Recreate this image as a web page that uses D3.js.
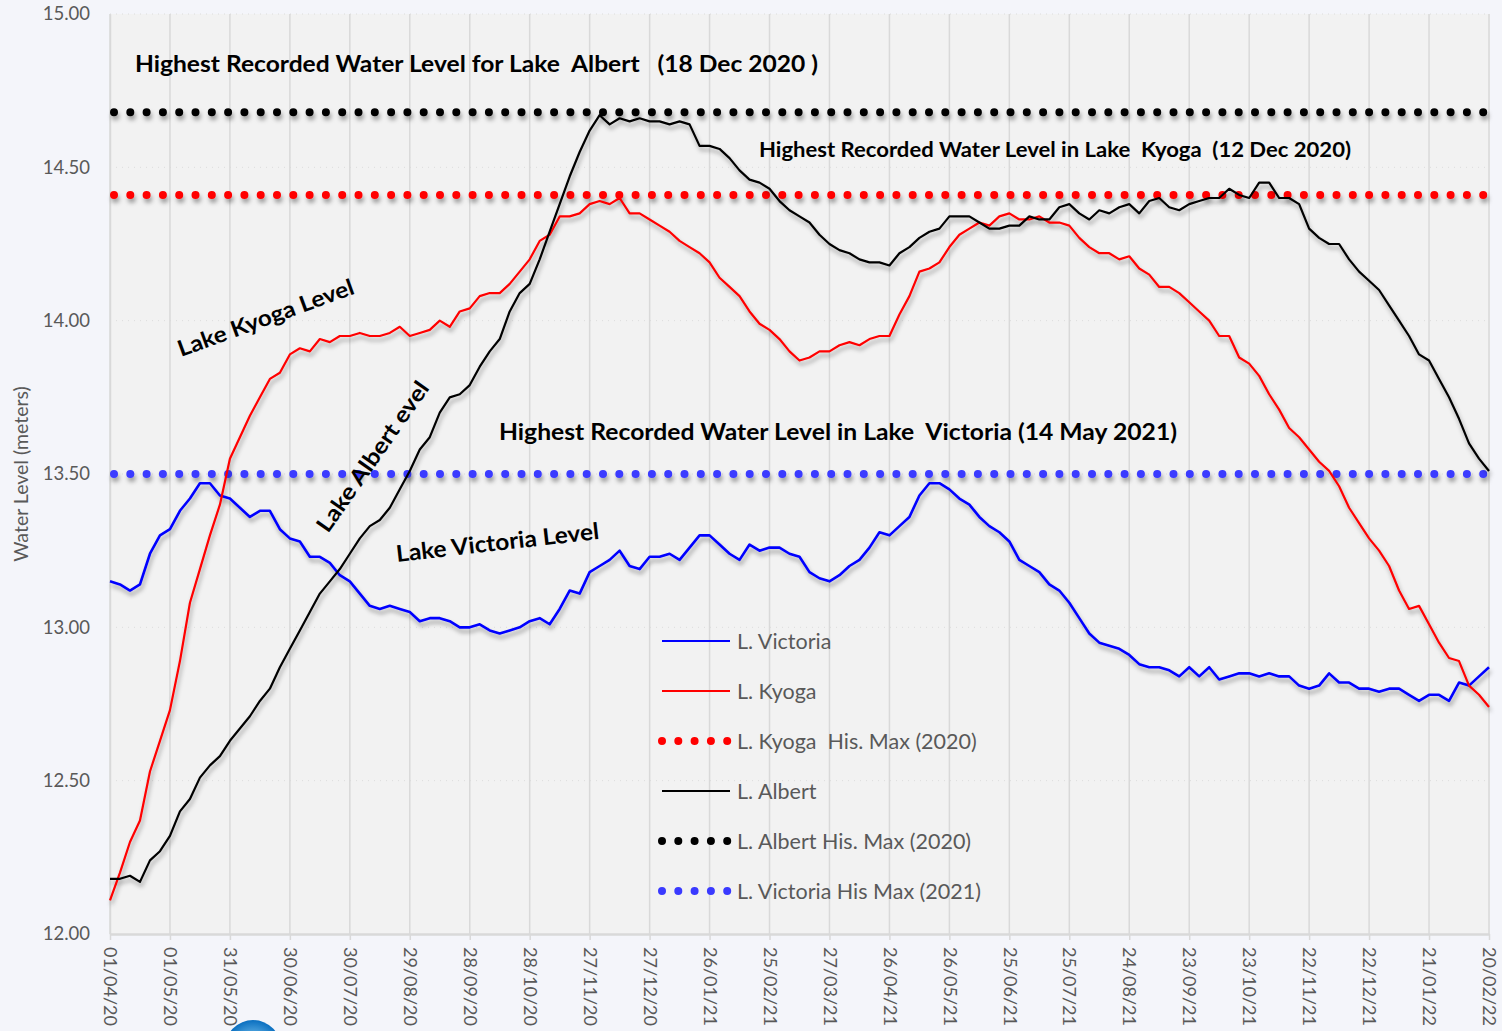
<!DOCTYPE html>
<html><head><meta charset="utf-8">
<script src="https://cdn.jsdelivr.net/npm/d3@7"></script>
<style>
html,body{margin:0;padding:0;background:#f4f5fa;}
svg{display:block;font-family:Lato,"Open Sans",sans-serif;}
</style></head><body>
<svg id="chart" width="1502" height="1031"></svg>
<script>
// ---- data ----
const startDate = "01/04/20";
const stepDays = 5;
const tickLabels = ["01/04/20","01/05/20","31/05/20","30/06/20","30/07/20","29/08/20","28/09/20","28/10/20","27/11/20","27/12/20","26/01/21","25/02/21","27/03/21","26/04/21","26/05/21","25/06/21","25/07/21","24/08/21","23/09/21","23/10/21","22/11/21","22/12/21","21/01/22","20/02/22"];
const yTicks = [12.0,12.5,13.0,13.5,14.0,14.5,15.0];

const albert = [12.18,12.18,12.19,12.17,12.24,12.27,12.32,12.40,12.44,12.51,12.55,12.58,12.63,12.67,12.71,12.76,12.80,12.87,12.93,12.99,13.05,13.11,13.15,13.19,13.24,13.29,13.33,13.35,13.39,13.45,13.51,13.58,13.62,13.70,13.75,13.76,13.79,13.85,13.90,13.94,14.03,14.09,14.12,14.20,14.29,14.38,14.47,14.55,14.62,14.67,14.64,14.66,14.65,14.66,14.65,14.65,14.64,14.65,14.64,14.57,14.57,14.56,14.53,14.49,14.46,14.45,14.43,14.39,14.36,14.34,14.32,14.28,14.25,14.23,14.22,14.20,14.19,14.19,14.18,14.22,14.24,14.27,14.29,14.30,14.34,14.34,14.34,14.32,14.30,14.30,14.31,14.31,14.34,14.33,14.33,14.37,14.38,14.35,14.33,14.36,14.35,14.37,14.38,14.35,14.39,14.40,14.37,14.36,14.38,14.39,14.40,14.40,14.43,14.41,14.40,14.45,14.45,14.40,14.40,14.38,14.30,14.27,14.25,14.25,14.20,14.16,14.13,14.10,14.05,14.00,13.95,13.89,13.87,13.81,13.75,13.68,13.60,13.55,13.51];

const kyoga = [12.11,12.20,12.30,12.37,12.53,12.63,12.73,12.89,13.08,13.19,13.30,13.40,13.55,13.62,13.69,13.75,13.81,13.83,13.89,13.91,13.90,13.94,13.93,13.95,13.95,13.96,13.95,13.95,13.96,13.98,13.95,13.96,13.97,14.00,13.98,14.03,14.04,14.08,14.09,14.09,14.12,14.16,14.20,14.26,14.28,14.34,14.34,14.35,14.38,14.39,14.38,14.40,14.35,14.35,14.33,14.31,14.29,14.26,14.24,14.22,14.19,14.14,14.11,14.08,14.03,13.99,13.97,13.94,13.90,13.87,13.88,13.90,13.90,13.92,13.93,13.92,13.94,13.95,13.95,14.02,14.08,14.16,14.17,14.19,14.24,14.28,14.30,14.32,14.31,14.34,14.35,14.33,14.33,14.34,14.32,14.32,14.31,14.27,14.24,14.22,14.22,14.20,14.21,14.17,14.15,14.11,14.11,14.09,14.06,14.03,14.00,13.95,13.95,13.88,13.86,13.82,13.76,13.71,13.65,13.62,13.58,13.54,13.51,13.46,13.39,13.34,13.29,13.25,13.20,13.12,13.06,13.07,13.01,12.95,12.90,12.89,12.81,12.78,12.74];

const victoria = [13.15,13.14,13.12,13.14,13.24,13.30,13.32,13.38,13.42,13.47,13.47,13.43,13.42,13.39,13.36,13.38,13.38,13.32,13.29,13.28,13.23,13.23,13.21,13.17,13.15,13.11,13.07,13.06,13.07,13.06,13.05,13.02,13.03,13.03,13.02,13.00,13.00,13.01,12.99,12.98,12.99,13.00,13.02,13.03,13.01,13.06,13.12,13.11,13.18,13.20,13.22,13.25,13.20,13.19,13.23,13.23,13.24,13.22,13.26,13.30,13.30,13.27,13.24,13.22,13.27,13.25,13.26,13.26,13.24,13.23,13.18,13.16,13.15,13.17,13.20,13.22,13.26,13.31,13.30,13.33,13.36,13.43,13.47,13.47,13.45,13.42,13.40,13.36,13.33,13.31,13.28,13.22,13.20,13.18,13.14,13.12,13.08,13.03,12.98,12.95,12.94,12.93,12.91,12.88,12.87,12.87,12.86,12.84,12.87,12.84,12.87,12.83,12.84,12.85,12.85,12.84,12.85,12.84,12.84,12.81,12.80,12.81,12.85,12.82,12.82,12.80,12.80,12.79,12.80,12.80,12.78,12.76,12.78,12.78,12.76,12.82,12.81,12.84,12.87];

const maxAlbert = 14.68, maxKyoga = 14.41, maxVictoria = 13.50;

const legendItems = [
  {label:"L. Victoria", type:"line", color:"#0000ff"},
  {label:"L. Kyoga", type:"line", color:"#ff0000"},
  {label:"L. Kyoga  His. Max (2020)", type:"dots", color:"#ff0000"},
  {label:"L. Albert", type:"line", color:"#000000"},
  {label:"L. Albert His. Max (2020)", type:"dots", color:"#000000"},
  {label:"L. Victoria His Max (2021)", type:"dots", color:"#3a3aff"}
];

// ---- chart ----
const svg = d3.select("#chart");
const parse = d3.utcParse("%d/%m/%y");
const fmt = d3.utcFormat("%d/%m/%y");
const t0 = parse(startDate);
const dates = albert.map((_, i) => d3.utcDay.offset(t0, i * stepDays));
const tickDates = tickLabels.map(parse);

const L = 110, R = 1489, T = 14, B = 934;
const x = d3.scaleUtc().domain([tickDates[0], tickDates[tickDates.length-1]]).range([L, R]);
const y = d3.scaleLinear().domain([12, 15]).range([B, T]);

const defs = svg.append("defs");
const f = defs.append("filter").attr("id","shadow").attr("x","-5%").attr("y","-5%").attr("width","110%").attr("height","120%");
f.append("feDropShadow").attr("dx",1.5).attr("dy",4).attr("stdDeviation",2.2).attr("flood-color","#000").attr("flood-opacity",0.35);
const g1 = defs.append("radialGradient").attr("id","logo");
g1.append("stop").attr("offset","0%").attr("stop-color","#9fe0ff");
g1.append("stop").attr("offset","100%").attr("stop-color","#0a6fc0");

// plot bg
svg.append("rect").attr("x", L).attr("y", T).attr("width", R - L + 1).attr("height", B - T).attr("fill", "#f2f2f2");

// horizontal dotted gridlines
svg.append("g").selectAll("line").data(yTicks.slice(1)).join("line")
  .attr("x1", L).attr("x2", R).attr("y1", d => y(d)).attr("y2", d => y(d))
  .attr("stroke", "#dcdcdc").attr("stroke-width", 1).attr("stroke-dasharray", "1 5");

// vertical gridlines
svg.append("g").selectAll("line").data(tickDates).join("line")
  .attr("x1", d => x(d)).attr("x2", d => x(d)).attr("y1", T).attr("y2", B)
  .attr("stroke", "#d9d9d9").attr("stroke-width", 1.5);

// y axis
const yAxis = svg.append("g").attr("transform", `translate(${L},0)`)
  .call(d3.axisLeft(y).tickValues(yTicks).tickFormat(d3.format(".2f")).tickSize(0).tickPadding(20));
yAxis.select(".domain").attr("stroke", "#d9d9d9").attr("stroke-width", 1.5);
yAxis.selectAll("text").attr("fill", "#595959").style("font-size", "18.5px").style("font-family", "Lato, sans-serif");

// x axis
const xAxis = svg.append("g").attr("transform", `translate(0,${B})`)
  .call(d3.axisBottom(x).tickValues(tickDates).tickFormat(fmt).tickSize(6).tickSizeOuter(0));
xAxis.select(".domain").attr("stroke", "#d9d9d9").attr("stroke-width", 2.5);
xAxis.selectAll(".tick line").attr("stroke", "#d9d9d9").attr("stroke-width", 1.5);
xAxis.selectAll("text")
  .attr("fill", "#595959").style("font-size", "18px").style("font-family", "Lato, sans-serif")
  .attr("text-anchor", "start").attr("transform", "rotate(90)")
  .attr("x", 13).attr("y", 0).attr("dy", "0.35em");

// y title
svg.append("text").attr("transform", "translate(28,474) rotate(-90)").attr("text-anchor", "middle")
  .attr("fill", "#595959").style("font-size", "19.5px").text("Water Level (meters)");

// reference dotted lines
const refs = [{v:maxAlbert,c:"#000000"},{v:maxKyoga,c:"#ff0000"},{v:maxVictoria,c:"#3a3aff"}];
svg.append("g").attr("filter","url(#shadow)").selectAll("line").data(refs).join("line")
  .attr("x1", L + 4).attr("x2", R - 2).attr("y1", d => y(d.v)).attr("y2", d => y(d.v))
  .attr("stroke", d => d.c).attr("stroke-width", 8).attr("stroke-linecap", "round").attr("stroke-dasharray", "0 16.3");

// series
const line = d3.line().x((d, i) => x(dates[i])).y(d => y(d));
const series = [{v:victoria,c:"#0000ff",w:2.6},{v:kyoga,c:"#ff0000",w:2.2},{v:albert,c:"#000000",w:2.2}];
svg.append("g").attr("filter","url(#shadow)").selectAll("path").data(series).join("path")
  .attr("d", d => line(d.v)).attr("fill", "none").attr("stroke", d => d.c).attr("stroke-width", d => d.w)
  .attr("stroke-linejoin", "round");

// annotations
const ann = svg.append("g").attr("fill", "#000").style("font-weight", "700");
function addText(x0, y0, size, len, txt, rot) {
  const t = ann.append("text").style("font-size", size + "px").attr("xml:space","preserve")
    .attr("textLength", len).attr("lengthAdjust", "spacingAndGlyphs").text(txt);
  if (rot) t.attr("transform", `translate(${x0},${y0}) rotate(${rot})`);
  else t.attr("x", x0).attr("y", y0);
}
addText(135, 72, 23, 683, "Highest Recorded Water Level for Lake  Albert   (18 Dec 2020 )");
addText(759, 157, 21, 592, "Highest Recorded Water Level in Lake  Kyoga  (12 Dec 2020)");
addText(499, 440, 23, 678, "Highest Recorded Water Level in Lake  Victoria (14 May 2021)");
addText(181, 357, 22.5, 186, "Lake Kyoga Level", -20);
addText(328, 534, 22.5, 178, "Lake Albert evel", -55);
addText(397, 562, 23, 204, "Lake Victoria Level", -6.5);

// legend
const lg = svg.append("g").selectAll("g").data(legendItems).join("g")
  .attr("transform", (d, i) => `translate(662,${641 + i * 50})`);
lg.filter(d => d.type === "line").append("line").attr("x1", 0).attr("x2", 68).attr("y1", 0).attr("y2", 0)
  .attr("stroke", d => d.color).attr("stroke-width", 2.2);
lg.filter(d => d.type === "dots").append("line").attr("x1", 0).attr("x2", 66).attr("y1", 0).attr("y2", 0)
  .attr("stroke", d => d.color).attr("stroke-width", 8).attr("stroke-linecap", "round").attr("stroke-dasharray", "0 16.3");
lg.append("text").attr("x", 75).attr("y", 0).attr("dy", "0.35em").attr("fill", "#595959")
  .style("font-size", "21.5px").attr("xml:space","preserve").text(d => d.label);

// partial logo at bottom
svg.append("circle").attr("cx", 253).attr("cy", 1048).attr("r", 28).attr("fill", "url(#logo)");
</script>
</body></html>
